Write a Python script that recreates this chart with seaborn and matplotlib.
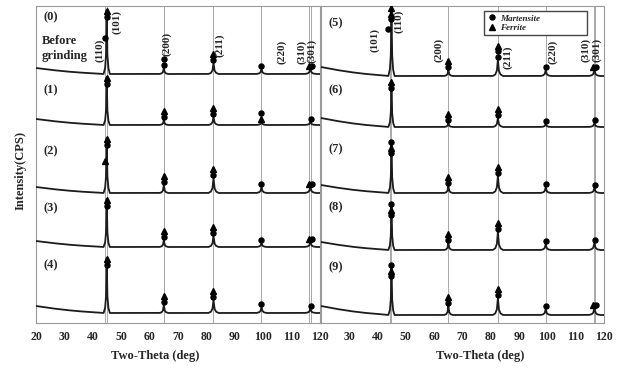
import numpy as np
import pandas as pd
import matplotlib
matplotlib.use("Agg")
import matplotlib.pyplot as plt
import matplotlib.transforms as mtransforms
from matplotlib.lines import Line2D
import seaborn as sns

# reflections (2-theta, deg) and base half-width of each peak
PEAK_NAMES = ["110", "200", "211", "220", "310"]
PEAK_POS = [44.9, 65.0, 82.5, 99.4, 116.6]
PEAK_HALFBASE = [1.1, 1.5, 1.8, 1.8, 2.0]
GUIDE_LINES = [44.3, 44.9, 65.0, 82.5, 99.4, 116.3, 116.9]
SHOULDER_POS = [44.2, 43.8]

LEFT_LABELS = ["(0)", "(1)", "(2)", "(3)", "(4)"]
RIGHT_LABELS = ["(5)", "(6)", "(7)", "(8)", "(9)"]

# vertical offset of each pattern
LEFT_OFFSETS = [249, 198, 130, 76, 10]
RIGHT_OFFSETS = [247, 196, 130, 73, 8]

# peak heights above baseline (rows = patterns, cols = PEAK_NAMES)
LEFT_HEIGHTS = [
    [64, 6, 11, 5, 5],
    [48, 5, 8, 3, 3],
    [55, 8, 15, 6, 6],
    [48, 7, 11, 4, 5],
    [55, 8, 13, 6, 4],
]
RIGHT_HEIGHTS = [
    [69, 6, 16, 6, 6],
    [46, 4, 9, 3, 4],
    [52, 7, 17, 6, 5],
    [47, 7, 18, 6, 7],
    [51, 9, 17, 6, 7],
]

# low-angle background rise
LEFT_BG = [6, 6, 6, 6, 7]
RIGHT_BG = [9, 9, 8, 8, 9]
BG_ANGLES = [20, 25, 30, 35, 40, 44, 120]
BG_SHAPE = [1.0, 0.7, 0.45, 0.25, 0.12, 0.0, 0.0]

# phase markers per peak, top -> bottom (M = martensite, F = ferrite)
LEFT_MARKS = [
    ["FM", "MM", "FM", "M", "FM"],
    ["FM", "FM", "FM", "MF", "M"],
    ["FM", "FM", "FM", "M", "FM"],
    ["FM", "FM", "FM", "M", "FM"],
    ["FM", "FM", "FM", "M", "M"],
]
RIGHT_MARKS = [
    ["FFM", "FM", "FMM", "M", "FM"],
    ["FM", "FM", "FM", "M", "M"],
    ["MFM", "FM", "FM", "M", "M"],
    ["MFM", "FM", "FM", "M", "M"],
    ["MFM", "FM", "FM", "M", "FM"],
]
# (pattern, height, phase) of the (101) shoulder marker
LEFT_SHOULDER = [(0, 36, "M"), (2, 32, "F")]
RIGHT_SHOULDER = [(0, 47, "M")]

# hkl labels: (text, 2-theta, height)
LEFT_HKL = [("(110)", 42.5, 273), ("(101)", 48.5, 301), ("(200)", 66.1, 279),
            ("(211)", 84.8, 278), ("(220)", 106.6, 271), ("(310)", 113.7, 271),
            ("(301)", 117.2, 272)]
RIGHT_HKL = [("(101)", 39.1, 283), ("(110)", 47.6, 302), ("(200)", 61.7, 273),
             ("(211)", 86.1, 266), ("(220)", 102.0, 271), ("(310)", 113.6, 273),
             ("(301)", 117.5, 273)]

LEFT_TAG_Y = [306, 233, 172, 115, 58]
RIGHT_TAG_Y = [300, 233, 174, 116, 56]

PROFILE_DX = [-1, -0.5, -0.2, 0, 0.2, 0.5, 1]
PROFILE_FRAC = [0, 0.1, 0.32, 1, 0.32, 0.1, 0]

sns.set_style("white")
plt.rcParams["font.family"] = ["Liberation Serif", "DejaVu Serif"]
plt.rcParams["font.weight"] = "bold"
plt.rcParams["axes.labelweight"] = "bold"

fig = plt.figure(figsize=(6.18, 3.70), dpi=100)
ax_l = fig.add_axes([36 / 618, 47 / 370, 284 / 618, 317 / 370])
ax_r = fig.add_axes([321 / 618, 47 / 370, 283 / 618, 317 / 370])

x = np.arange(20, 120.001, 0.05)
MARK_STYLE = {"M": dict(marker="o", ms=3.6), "F": dict(marker="^", ms=4.0)}
STEP = 5.5


def draw_panel(ax, offsets, heights, bg, marks, shoulder, hkl, tags, tag_y, first=False):
    for i, off in enumerate(offsets):
        y = off + bg[i] * np.interp(x, BG_ANGLES, BG_SHAPE)
        for j, pos in enumerate(PEAK_POS):
            y = y + np.interp(x, pos + np.array(PROFILE_DX) * PEAK_HALFBASE[j],
                              np.array(PROFILE_FRAC) * heights[i][j], left=0, right=0)
        df = pd.DataFrame({"two_theta": x, "intensity": y})
        sns.lineplot(data=df, x="two_theta", y="intensity", ax=ax, color="#1c1c1c",
                     lw=1.3, estimator=None, sort=False, zorder=3)

        # phase markers
        for j, pos in enumerate(PEAK_POS):
            apex = off + heights[i][j]
            stack = marks[i][j]
            if j == 4:
                xs = [116.1, 117.1] if len(stack) == 2 else [116.9]
                for k, s in enumerate(stack):
                    ax.plot(xs[k], apex + 3.5, color="black", ls="none", zorder=4,
                            **MARK_STYLE[s])
            elif j == 0:
                for k, s in enumerate(stack):
                    ax.plot(pos, apex - 1 - STEP * k, color="black", ls="none", zorder=4,
                            **MARK_STYLE[s])
            else:
                n = len(stack)
                for k, s in enumerate(stack):
                    ax.plot(pos, apex + 3.5 + STEP * (n - 1 - k), color="black",
                            ls="none", zorder=4, **MARK_STYLE[s])
        for p, h, s in shoulder:
            if p == i:
                sp = SHOULDER_POS[0] if first else SHOULDER_POS[1]
                ax.plot(sp, off + h, color="black", ls="none", zorder=4, **MARK_STYLE[s])

    for g in GUIDE_LINES:
        ax.axvline(g, color="#a8a8a8", lw=0.7, zorder=1)

    for t, xx, yy in hkl:
        ax.text(xx, yy, t, rotation=90, ha="center", va="center", fontsize=8,
                fontweight="bold", zorder=5)

    trans = mtransforms.blended_transform_factory(ax.transAxes, ax.transData)
    for t, yy in zip(tags, tag_y):
        ax.text(0.025, yy, t, transform=trans, ha="left", va="center", fontsize=9,
                fontweight="bold")

    ax.set_xlim(20, 120)
    ax.set_ylim(0, 317)
    ax.set_xticks(range(20, 121, 10))
    ax.set_yticks([])
    ax.tick_params(axis="x", length=0, labelsize=8.5, pad=6)
    ax.set_ylabel("")
    ax.set_xlabel("Two-Theta (deg)", fontsize=9, fontweight="bold")
    for sp in ax.spines.values():
        sp.set_color("#9a9a9a")
        sp.set_linewidth(0.8)


draw_panel(ax_l, LEFT_OFFSETS, LEFT_HEIGHTS, LEFT_BG, LEFT_MARKS, LEFT_SHOULDER,
           LEFT_HKL, LEFT_LABELS, LEFT_TAG_Y, first=True)
draw_panel(ax_r, RIGHT_OFFSETS, RIGHT_HEIGHTS, RIGHT_BG, RIGHT_MARKS, RIGHT_SHOULDER,
           RIGHT_HKL, RIGHT_LABELS, RIGHT_TAG_Y)

trans_l = mtransforms.blended_transform_factory(ax_l.transAxes, ax_l.transData)
ax_l.text(0.02, 274.5, "Before\ngrinding", transform=trans_l, ha="left", va="center",
          fontsize=9, fontweight="bold", linespacing=1.25)

ax_r.set_xticklabels([""] + [str(v) for v in range(30, 121, 10)])
ax_l.xaxis.set_label_coords(0.419, -0.085)
ax_r.xaxis.set_label_coords(0.562, -0.085)

fig.text(21 / 618, 1 - 170 / 370, "Intensity(CPS)", rotation=90, ha="center",
         va="center", fontsize=9, fontweight="bold")

handles = [Line2D([], [], color="black", ls="none", **MARK_STYLE["M"]),
           Line2D([], [], color="black", ls="none", **MARK_STYLE["F"])]
leg = ax_r.legend(handles, ["Martensite", "Ferrite"], loc="upper left",
                  bbox_to_anchor=(0.576, 0.896, 0.364, 0.088), mode="expand",
                  frameon=True, fancybox=False, framealpha=1, edgecolor="#444444",
                  borderaxespad=0, handlelength=1.0, handletextpad=0.4,
                  labelspacing=0.15, borderpad=0.35,
                  prop={"style": "italic", "weight": "bold", "size": 6.5})
leg.get_frame().set_linewidth(1.0)
leg.set_zorder(6)

fig.savefig("out.png", dpi=100)
